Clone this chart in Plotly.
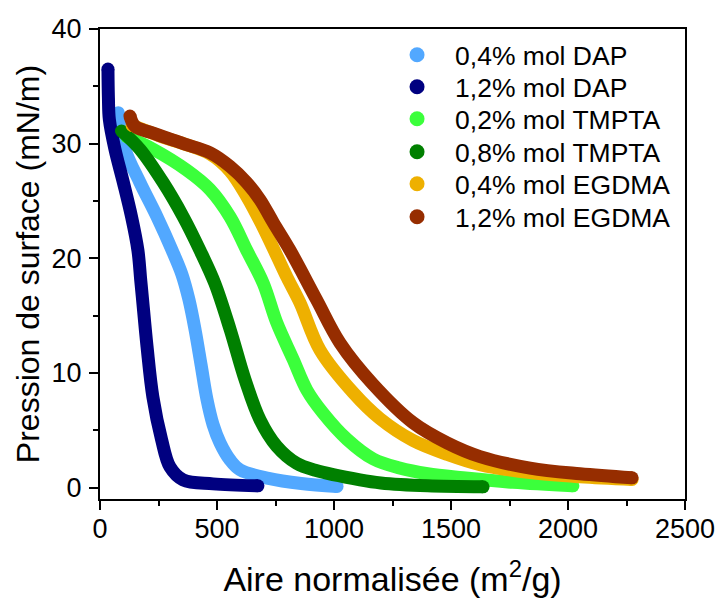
import plotly.graph_objects as go

# ---- data ----
names = ["0,4% mol DAP", "1,2% mol DAP", "0,2% mol TMPTA",
         "0,8% mol TMPTA", "0,4% mol EGDMA", "1,2% mol EGDMA"]
colors = ["#52A8FF", "#000080", "#3BFF3B", "#008000", "#EEB000", "#962D00"]

dap04_x = [78, 107, 171, 244, 308, 350, 380, 406, 432, 457, 483, 513, 556, 598, 720, 860, 1013]
dap04_y = [32.7, 29.5, 26.6, 23.6, 20.7, 18.6, 16.4, 13.8, 10.7, 7.7, 5.5, 3.9, 2.4, 1.55, 0.8, 0.35, 0.1]

dap12_x = [34, 36, 40, 64, 100, 135, 162, 174, 181, 201, 226, 263, 299, 355, 483, 675]
dap12_y = [36.5, 34.0, 32.1, 29.5, 26.6, 23.6, 20.7, 18.1, 16.6, 12.3, 7.9, 4.2, 1.8, 0.67, 0.32, 0.15]

tmpta02_x = [114, 228, 370, 470, 556, 627, 698, 755, 825, 884, 953, 1056, 1167, 1280, 1400, 1551, 1765, 2021]
tmpta02_y = [30.6, 29.5, 27.7, 26.0, 23.6, 20.7, 17.8, 14.4, 11.2, 8.5, 6.5, 4.2, 2.5, 1.7, 1.2, 0.85, 0.45, 0.15]

tmpta08_x = [92, 171, 270, 356, 427, 491, 556, 620, 684, 755, 841, 920, 1111, 1200, 1400, 1637]
tmpta08_y = [31.1, 29.5, 26.6, 23.6, 20.7, 17.8, 13.8, 9.4, 5.9, 3.6, 2.1, 1.5, 0.67, 0.4, 0.15, 0.06]

egdma04_x = [137, 265, 356, 470, 556, 627, 690, 756, 800, 855, 940, 1081, 1197, 1338, 1483, 1624, 1838, 2051, 2274]
egdma04_y = [31.6, 30.6, 30.0, 29.1, 27.6, 25.4, 23.0, 20.2, 18.3, 16.1, 12.0, 8.3, 6.0, 4.1, 2.9, 2.0, 1.3, 0.93, 0.7]

egdma12_x = [128, 150, 214, 356, 470, 556, 627, 684, 741, 812, 925, 1026, 1167, 1338, 1483, 1624, 1838, 2051, 2274]
egdma12_y = [32.4, 31.5, 31.0, 30.0, 29.2, 28.0, 26.6, 25.1, 23.1, 20.7, 16.4, 12.6, 9.0, 5.65, 3.9, 2.7, 1.7, 1.2, 0.85]

xs = [dap04_x, dap12_x, tmpta02_x, tmpta08_x, egdma04_x, egdma12_x]
ys = [dap04_y, dap12_y, tmpta02_y, tmpta08_y, egdma04_y, egdma12_y]

x_ticks = [0, 500, 1000, 1500, 2000, 2500]
y_ticks = [0, 10, 20, 30, 40]

FONT = "Liberation Sans, Arial, sans-serif"
LW = 13

fig = go.Figure()
for name, col, x, y in zip(names, colors, xs, ys):
    fig.add_trace(go.Scatter(
        x=x, y=y, mode="lines", name=name, showlegend=False,
        line=dict(color=col, width=LW, shape="spline", smoothing=1.0),
        hoverinfo="skip"))
    # rounded ends of the thick curve
    fig.add_trace(go.Scatter(
        x=[x[0], x[-1]], y=[y[0], y[-1]], mode="markers", showlegend=False,
        marker=dict(color=col, size=LW, opacity=1, line=dict(width=0)),
        hoverinfo="skip"))

# one legend per entry so the row spacing can follow the reference
legend_ids = ["legend", "legend2", "legend3", "legend4", "legend5", "legend6"]
row_y = [0.9447, 0.8766, 0.8085, 0.7383, 0.6702, 0.600]
for name, col, lid in zip(names, colors, legend_ids):
    fig.add_trace(go.Scatter(
        x=[None], y=[None], mode="markers", name=name, legend=lid,
        marker=dict(color=col, size=15, line=dict(width=0))))

axis_common = dict(
    showgrid=False, zeroline=False, showline=True, linecolor="black", linewidth=2,
    mirror=True, ticks="outside", ticklen=9, tickwidth=1.5, tickcolor="black",
    tickfont=dict(family=FONT, size=27, color="black"), automargin=False,
    minor=dict(ticks="outside", ticklen=5, tickwidth=1.5, tickcolor="black"),
)

fig.update_xaxes(range=[0, 2500], tickvals=x_ticks, ticktext=[str(v) for v in x_ticks],
                 minor_dtick=250, ticklabelstandoff=-4,
                 title=dict(text="Aire normalisée (m<sup>2</sup>/g)",
                            font=dict(family=FONT, size=34, color="black"), standoff=24),
                 **axis_common)
fig.update_yaxes(range=[-1, 40], tickvals=y_ticks, ticktext=[str(v) for v in y_ticks],
                 minor_dtick=5, ticklabelstandoff=2,
                 title=dict(text="Pression de surface (mN/m)",
                            font=dict(family=FONT, size=32, color="black"), standoff=2),
                 **axis_common)

layout_legends = {}
for lid, ry in zip(legend_ids, row_y):
    layout_legends[lid] = dict(
        x=0.477, y=ry, xanchor="left", yanchor="middle",
        bgcolor="rgba(0,0,0,0)", borderwidth=0, itemwidth=66,
        font=dict(family=FONT, size=26.5, color="black"))

fig.update_layout(
    width=719, height=601,
    margin=dict(l=100, r=34, t=29, b=102),
    paper_bgcolor="white", plot_bgcolor="white",
    showlegend=True,
    font=dict(family=FONT, color="black"),
    **layout_legends,
)

fig.write_html("out.html", config={"displayModeBar": False},
               post_script="document.body.style.margin='0';")
